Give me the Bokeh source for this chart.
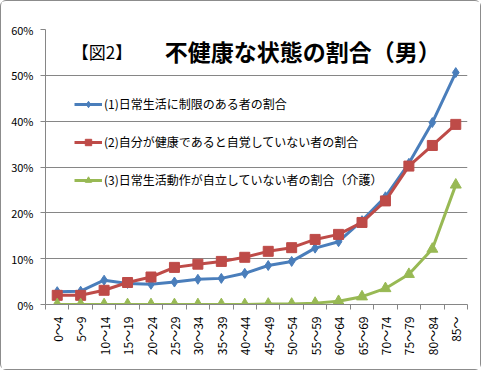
import math
from bokeh.plotting import figure
from bokeh.models import (FixedTicker, NumeralTickFormatter, Legend, LegendItem, Label, Range1d)
from bokeh.embed import file_html
from bokeh.resources import INLINE

categories = ["0～4", "5～9", "10～14", "15～19", "20～24", "25～29", "30～34", "35～39",
              "40～44", "45～49", "50～54", "55～59", "60～64", "65～69", "70～74",
              "75～79", "80～84", "85～"]
series1 = [2.8, 2.9, 5.3, 4.6, 4.4, 4.9, 5.5, 5.7, 6.8, 8.5, 9.4, 12.3, 13.7, 18.3, 23.5, 30.8, 39.7, 50.6]
series2 = [2.0, 2.0, 3.1, 4.8, 6.0, 8.1, 8.8, 9.4, 10.3, 11.6, 12.4, 14.2, 15.3, 17.9, 22.6, 30.2, 34.7, 39.3]
series3 = [0.0, 0.0, 0.0, 0.0, 0.0, 0.0, 0.0, 0.0, 0.0, 0.1, 0.1, 0.3, 0.7, 1.7, 3.5, 6.6, 12.1, 26.1]
names = ["(1)日常生活に制限のある者の割合",
         "(2)自分が健康であると自覚していない者の割合",
         "(3)日常生活動作が自立していない者の割合（介護）"]
title_left = "【図2】"
title_main = "不健康な状態の割合（男）"
y_ticks = [0, 10, 20, 30, 40, 50, 60]

FONT = "Noto Sans CJK JP"
GRID = "#868686"
colors = ["#4A7EBB", "#BE4B48", "#98B954"]
markers = ["diamond", "square", "triangle"]
msizes = [10, 10, 11]

xs = list(range(len(categories)))

p = figure(width=481, height=370, output_backend="svg", toolbar_location=None,
           x_range=Range1d(-0.5, len(categories) - 0.5), y_range=Range1d(0, 0.6),
           min_border_left=44, min_border_right=15, min_border_top=28, min_border_bottom=67)
p.styles = {"border": "1px solid #8c8c8c", "border-radius": "6px"}
p.outline_line_color = None
p.background_fill_color = "white"
p.border_fill_color = "white"

# axes
p.xaxis.ticker = FixedTicker(ticks=xs, minor_ticks=[i - 0.5 for i in range(len(categories) + 1)])
p.xaxis.major_label_overrides = {i: c for i, c in enumerate(categories)}
p.xaxis.major_label_orientation = math.pi / 2
p.xaxis.major_tick_line_color = None
p.xaxis.major_tick_out = 0
p.xaxis.major_tick_in = 0
p.xaxis.minor_tick_out = 5
p.xaxis.minor_tick_in = 0
p.xaxis.minor_tick_line_color = GRID
p.xaxis.axis_line_color = GRID
p.xaxis.major_label_standoff = 7
p.xaxis.major_label_text_font = FONT
p.xaxis.major_label_text_font_size = "12px"
p.xaxis.major_label_text_color = "#000000"

p.yaxis.ticker = FixedTicker(ticks=[t / 100 for t in y_ticks])
p.yaxis.formatter = NumeralTickFormatter(format="0%")
p.yaxis.major_tick_out = 5
p.yaxis.major_tick_in = 0
p.yaxis.major_tick_line_color = GRID
p.yaxis.minor_tick_line_color = None
p.yaxis.axis_line_color = GRID
p.yaxis.major_label_standoff = 7
p.yaxis.major_label_text_font = FONT
p.yaxis.major_label_text_font_size = "11px"
p.yaxis.major_label_text_color = "#000000"

p.xgrid.grid_line_color = None
p.ygrid.grid_line_color = GRID
p.ygrid.ticker = FixedTicker(ticks=[t / 100 for t in y_ticks])

items = []
for vals, col, mk, ms, nm in zip([series1, series2, series3], colors, markers, msizes, names):
    ys = [v / 100 for v in vals]
    ln = p.line(xs, ys, line_color=col, line_width=3)
    sc = p.scatter(xs, ys, marker=mk, size=ms, fill_color=col, line_color=col)
    items.append(LegendItem(label=nm, renderers=[ln, sc]))

legend = Legend(items=items, location=(29, 116), orientation="vertical",
                padding=0, margin=0, spacing=21, glyph_width=28, glyph_height=16,
                label_height=16, label_standoff=2,
                label_text_font=FONT, label_text_font_size="12px",
                label_text_color="#000000",
                background_fill_alpha=0, border_line_alpha=0)
p.add_layout(legend)

p.add_layout(Label(x=0.62, y=0.553, text=title_left, text_font=FONT, text_font_size="17px",
                   text_baseline="middle", text_align="left", text_color="#000000"))
p.add_layout(Label(x=4.59, y=0.553, text=title_main, text_font=FONT, text_font_size="23px",
                   text_font_style="bold", text_baseline="middle", text_align="left",
                   text_color="#000000"))

open("out.html", "w").write(file_html(p, INLINE))
